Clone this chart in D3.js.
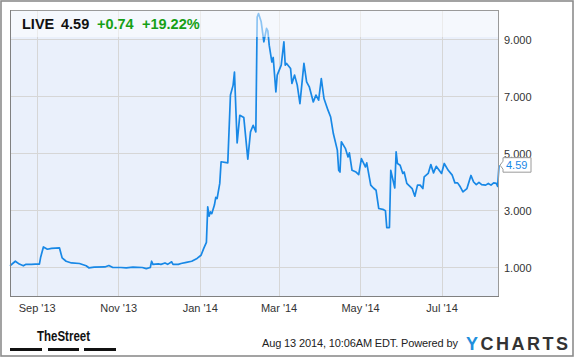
<!DOCTYPE html>
<html><head><meta charset="utf-8">
<script src="https://cdn.jsdelivr.net/npm/d3@7"></script>
<style>
html,body{margin:0;padding:0;background:#fff;}
svg{display:block;font-family:"Liberation Sans",Arial,sans-serif;}
</style></head>
<body>
<svg id="c" width="575" height="358"></svg>
<script>
const dates = ["2013-08-12","2013-08-14","2013-08-16","2013-08-19","2013-08-22","2013-08-24","2013-08-28","2013-08-31",
"2013-09-03","2013-09-04","2013-09-06","2013-09-09","2013-09-12","2013-09-18","2013-09-20","2013-09-23","2013-09-27",
"2013-10-03","2013-10-08","2013-10-10","2013-10-14","2013-10-22","2013-10-25","2013-10-28",
"2013-11-03","2013-11-07","2013-11-12","2013-11-19","2013-11-22","2013-11-25","2013-11-26","2013-11-27",
"2013-12-01","2013-12-03","2013-12-06","2013-12-08","2013-12-11","2013-12-12","2013-12-16","2013-12-18","2013-12-22","2013-12-26","2013-12-30",
"2014-01-02","2014-01-04","2014-01-06","2014-01-07","2014-01-08","2014-01-09","2014-01-10","2014-01-12","2014-01-13","2014-01-14","2014-01-16","2014-01-17","2014-01-22","2014-01-24","2014-01-26","2014-01-27","2014-01-29","2014-01-31",
"2014-02-03","2014-02-06","2014-02-08","2014-02-10","2014-02-12","2014-02-13","2014-02-14","2014-02-16","2014-02-18","2014-02-20","2014-02-21","2014-02-22","2014-02-24","2014-02-25","2014-02-27","2014-02-28",
"2014-03-03","2014-03-05","2014-03-06","2014-03-07","2014-03-10","2014-03-11","2014-03-13","2014-03-15","2014-03-17","2014-03-20","2014-03-22","2014-03-24","2014-03-27","2014-03-29","2014-03-31",
"2014-04-02","2014-04-04","2014-04-07","2014-04-09","2014-04-11","2014-04-14","2014-04-15","2014-04-16","2014-04-17","2014-04-20","2014-04-22","2014-04-23","2014-04-25","2014-04-28","2014-04-30",
"2014-05-02","2014-05-05","2014-05-06","2014-05-09","2014-05-11","2014-05-13","2014-05-15","2014-05-18","2014-05-20","2014-05-21","2014-05-23","2014-05-24","2014-05-27","2014-05-28","2014-05-29","2014-05-31",
"2014-06-02","2014-06-03","2014-06-05","2014-06-09","2014-06-11","2014-06-13","2014-06-15","2014-06-17","2014-06-18","2014-06-21","2014-06-23","2014-06-25","2014-06-27",
"2014-07-01","2014-07-03","2014-07-06","2014-07-09","2014-07-11","2014-07-13","2014-07-15","2014-07-17","2014-07-20","2014-07-23","2014-07-25","2014-07-27","2014-07-29","2014-07-31",
"2014-08-03","2014-08-05","2014-08-07","2014-08-09","2014-08-11","2014-08-12","2014-08-13"];
const prices = [1.06,1.14,1.22,1.12,1.06,1.11,1.11,1.12,
1.12,1.37,1.72,1.64,1.67,1.69,1.34,1.22,1.16,
1.14,1.06,0.99,1.01,1.02,1.07,1.00,
1.00,0.99,1.01,1.00,0.96,1.00,1.22,1.11,
1.13,1.11,1.16,1.11,1.20,1.11,1.11,1.14,1.18,1.22,1.32,
1.43,1.67,1.88,3.13,2.80,2.95,2.89,3.19,3.46,3.42,3.95,4.71,4.67,7.05,7.40,7.86,5.37,6.34,
6.26,4.80,5.76,5.99,5.76,9.79,9.91,9.62,8.92,9.39,9.30,8.80,8.21,8.37,7.16,7.75,
8.10,8.92,8.10,8.16,7.98,7.46,7.75,7.40,6.75,8.16,7.51,7.34,6.81,7.05,6.87,
7.63,6.93,6.52,6.28,5.70,5.12,4.41,4.35,5.41,5.18,4.88,5.02,4.41,4.35,4.26,
4.82,4.53,4.67,3.89,3.79,3.71,3.07,3.04,2.99,2.40,2.40,4.41,3.79,5.06,4.65,4.59,
4.30,4.35,3.95,3.77,3.50,3.89,3.89,3.77,4.18,4.30,4.61,4.32,4.55,
4.30,4.65,4.41,4.24,3.97,3.97,3.83,3.65,3.77,4.23,4.00,3.91,3.99,3.91,
3.89,3.95,3.89,3.97,3.95,3.85,4.59];
const yTicks = [1,3,5,7,9];
const xTickDates = ["2013-09-01","2013-11-01","2014-01-01","2014-03-01","2014-05-01","2014-07-01"];
const ticker = "LIVE", lastPrice = "4.59", change = "+0.74", changePct = "+19.22%";
const footerText = "Aug 13 2014, 10:06AM EDT. Powered by";

const parse = d3.timeParse("%Y-%m-%d");
const data = dates.map((d,i)=>({date:parse(d), v:prices[i]}));

const L=10, R=499, T=10, B=296;
const svg = d3.select("#c");
const x = d3.scaleTime().domain([parse("2013-08-12"), parse("2014-08-13")]).range([L,R]);
const y = d3.scaleLinear().domain([0,10.035]).range([B,T]);

// outer border
svg.append("rect").attr("x",1).attr("y",1).attr("width",572).attr("height",355)
  .attr("fill","#fff").attr("stroke","#8c8c8c").attr("stroke-width",1.6);

// plot background
svg.append("rect").attr("x",L).attr("y",T).attr("width",R-L).attr("height",B-T).attr("fill","#eaf0fb");

// gridlines
const xt = xTickDates.map(parse);
svg.append("g").selectAll("line").data(xt).join("line")
  .attr("x1",d=>Math.round(x(d))+0.5).attr("x2",d=>Math.round(x(d))+0.5)
  .attr("y1",T).attr("y2",B).attr("stroke","#d6d6d6").attr("stroke-width",1);
svg.append("g").selectAll("line").data(yTicks).join("line")
  .attr("x1",L).attr("x2",R).attr("y1",d=>Math.round(y(d))+0.5).attr("y2",d=>Math.round(y(d))+0.5)
  .attr("stroke","#d6d6d6").attr("stroke-width",1);

// line
const line = d3.line().x(d=>x(d.date)).y(d=>y(d.v));
svg.append("path").datum(data).attr("d",line).attr("fill","none")
  .attr("stroke","#1888e6").attr("stroke-width",1.7).attr("stroke-linejoin","round");

// header band overlay
svg.append("rect").attr("x",L).attr("y",T).attr("width",R-L).attr("height",27)
  .attr("fill","#fff").attr("fill-opacity",0.5);

// plot border
svg.append("rect").attr("x",L+0.5).attr("y",T+0.5).attr("width",R-L-1).attr("height",B-T)
  .attr("fill","none").attr("stroke","#9a9a9a").attr("stroke-width",1);
svg.append("line").attr("x1",L+0.5).attr("x2",L+0.5).attr("y1",T).attr("y2",B+1).attr("stroke","#808080");
svg.append("line").attr("x1",L).attr("x2",R).attr("y1",B+0.5).attr("y2",B+0.5).attr("stroke","#808080");

// header text
const hdr = svg.append("text").attr("y",29).attr("font-size","14.5px").attr("font-weight","bold");
hdr.append("tspan").attr("x",22).attr("fill","#111").text(ticker);
hdr.append("tspan").attr("x",61).attr("fill","#111").text(lastPrice);
hdr.append("tspan").attr("x",97).attr("fill","#16a016").text(change);
hdr.append("tspan").attr("x",142).attr("fill","#16a016").text(changePct);

// y axis labels
const yAxis = d3.axisRight(y).tickValues(yTicks).tickFormat(d3.format(".3f")).tickSize(0).tickPadding(0);
const ya = svg.append("g").attr("transform",`translate(${R+5},0)`).call(yAxis);
ya.select(".domain").remove();
ya.selectAll("text").attr("font-size","11px").attr("fill","#333").attr("font-family","Liberation Sans, Arial");

// x axis labels
const xAxis = d3.axisBottom(x).tickValues(xt).tickFormat(d3.timeFormat("%b '%y")).tickSize(0).tickPadding(0);
const xa = svg.append("g").attr("transform",`translate(0,${B+8})`).call(xAxis);
xa.select(".domain").remove();
xa.selectAll("text").attr("font-size","11px").attr("fill","#333").attr("font-family","Liberation Sans, Arial");

// last value label
const ly = y(prices[prices.length-1]);
const bx = R+4, bw = 28, bh = 14;
svg.append("path")
  .attr("d",`M${R+1},${ly} L${bx},${ly-4} L${bx},${ly-bh/2-0.5} L${bx+bw},${ly-bh/2-0.5} L${bx+bw},${ly+bh/2} L${bx},${ly+bh/2} L${bx},${ly+4} Z`)
  .attr("fill","#fff").attr("stroke","#9a9a9a").attr("stroke-width",1);
svg.append("text").attr("x",bx+3).attr("y",ly+4).attr("font-size","11px").attr("fill","#1888e6").text(lastPrice);

// footer: TheStreet logo
svg.append("text").attr("x",37).attr("y",341).attr("font-size","15px").attr("font-weight","bold")
  .attr("fill","#111").attr("textLength",53).attr("lengthAdjust","spacingAndGlyphs").text("TheStreet");
[[10,42],[48,79],[84,116]].forEach(s=>{
  svg.append("rect").attr("x",s[0]).attr("y",348).attr("width",s[1]-s[0]).attr("height",3).attr("fill","#111");
});

// footer text
svg.append("text").attr("x",262).attr("y",347).attr("font-size","11px").attr("fill","#222")
  .attr("textLength",196).attr("lengthAdjust","spacing").text(footerText);
const yc = svg.append("text").attr("x",466).attr("y",350).attr("font-size","18px").attr("font-weight","bold")
  .attr("textLength",102).attr("lengthAdjust","spacing");
yc.append("tspan").attr("fill","#1f8fdc").text("Y");
yc.append("tspan").attr("fill","#333").text("CHARTS");
</script>
</body></html>
